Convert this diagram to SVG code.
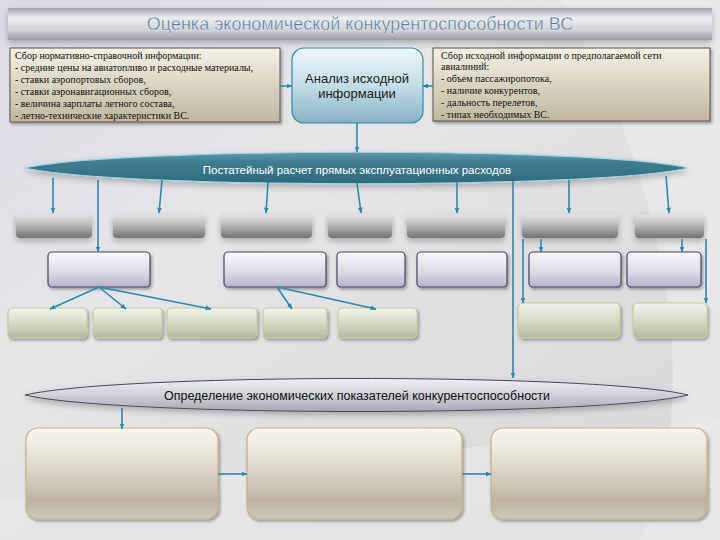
<svg xmlns="http://www.w3.org/2000/svg" width="720" height="540" viewBox="0 0 720 540">
  <defs>
    <linearGradient id="bg" x1="0" y1="0" x2="1" y2="1">
      <stop offset="0" stop-color="#dcdae6"/>
      <stop offset="0.35" stop-color="#e6e6e8"/>
      <stop offset="1" stop-color="#d6d6d8"/>
    </linearGradient>
    <linearGradient id="titleG" x1="0" y1="0" x2="0" y2="1">
      <stop offset="0" stop-color="#a2a2ae"/>
      <stop offset="0.3" stop-color="#ececf0"/>
      <stop offset="0.7" stop-color="#d2d2da"/>
      <stop offset="1" stop-color="#9a9aa6"/>
    </linearGradient>
    <linearGradient id="tanG" x1="0" y1="0" x2="0" y2="1">
      <stop offset="0" stop-color="#f4f1e6"/>
      <stop offset="1" stop-color="#bfb6a0"/>
    </linearGradient>
    <linearGradient id="tealBoxG" x1="0" y1="0" x2="0" y2="1">
      <stop offset="0" stop-color="#eef6f8"/>
      <stop offset="0.5" stop-color="#c4dde6"/>
      <stop offset="1" stop-color="#86b2c2"/>
    </linearGradient>
    <linearGradient id="ell1G" x1="0" y1="0" x2="0" y2="1">
      <stop offset="0" stop-color="#5e9bad"/>
      <stop offset="0.3" stop-color="#407f92"/>
      <stop offset="1" stop-color="#2e697b"/>
    </linearGradient>
    <linearGradient id="ell2G" x1="0" y1="0" x2="0" y2="1">
      <stop offset="0" stop-color="#f0f0f4"/>
      <stop offset="0.5" stop-color="#d0d0d8"/>
      <stop offset="1" stop-color="#a8a8b0"/>
    </linearGradient>
    <linearGradient id="grayG" x1="0" y1="0" x2="0" y2="1">
      <stop offset="0" stop-color="#e2e2e2"/>
      <stop offset="0.35" stop-color="#c6c6c6"/>
      <stop offset="1" stop-color="#727272"/>
    </linearGradient>
    <linearGradient id="lavG" x1="0" y1="0" x2="0" y2="1">
      <stop offset="0" stop-color="#faf9fc"/>
      <stop offset="0.5" stop-color="#e2dfea"/>
      <stop offset="1" stop-color="#b8b2c8"/>
    </linearGradient>
    <linearGradient id="greenG" x1="0" y1="0" x2="0" y2="1">
      <stop offset="0" stop-color="#f2f4ea"/>
      <stop offset="0.5" stop-color="#d6dac6"/>
      <stop offset="1" stop-color="#b2ba9e"/>
    </linearGradient>
    <linearGradient id="beigeG" x1="0" y1="0" x2="0" y2="1">
      <stop offset="0" stop-color="#f9f7ef"/>
      <stop offset="0.45" stop-color="#ddd7ca"/>
      <stop offset="0.8" stop-color="#bdb3a2"/>
      <stop offset="1" stop-color="#cfc8ba"/>
    </linearGradient>
    <filter id="sh" x="-10%" y="-20%" width="120%" height="150%">
      <feDropShadow dx="1.5" dy="2" stdDeviation="1.5" flood-color="#000" flood-opacity="0.35"/>
    </filter>
    <filter id="shSoft" x="-5%" y="-30%" width="110%" height="180%">
      <feDropShadow dx="0" dy="3" stdDeviation="3" flood-color="#000" flood-opacity="0.25"/>
    </filter>
    <marker id="arr" viewBox="0 0 10 10" refX="9" refY="5" markerWidth="6" markerHeight="6" orient="auto" markerUnits="userSpaceOnUse">
      <path d="M0,1 L10,5 L0,9 Z" fill="#2a8ab0"/>
    </marker>
    <style>
      .conn { stroke: #2a8ab0; stroke-width: 1.6; fill: none; }
      .gray { fill: url(#grayG); filter: url(#shSoft); }
      .lav { fill: url(#lavG); stroke: #4a4460; stroke-width: 1.2; filter: url(#sh); }
      .green { fill: url(#greenG); stroke: #c8c89a; stroke-width: 1; filter: url(#sh); }
      .beige { fill: url(#beigeG); stroke: #c4b488; stroke-width: 1.2; filter: url(#sh); }
      .tan { fill: url(#tanG); stroke: #5a5548; stroke-width: 1; filter: url(#sh); }
      .small { font-family: "Liberation Serif", "Times New Roman", serif; font-size: 10px; fill: #111; }
      .sans { font-family: "Liberation Sans", Arial, sans-serif; }
    </style>
  </defs>

  <rect x="0" y="0" width="720" height="540" fill="url(#bg)"/>
  <path d="M560,0 L720,0 L720,540 L640,540 C700,420 680,200 560,0 Z" fill="#ebebed" opacity="0.7"/>
  <path d="M0,500 L720,420 L720,540 L0,540 Z" fill="#e9e9eb" opacity="0.6"/>

  <g id="title">
    <rect x="8" y="8" width="704" height="32" fill="url(#titleG)" filter="url(#shSoft)"/>
    <text x="360" y="30" text-anchor="middle" class="sans" font-size="18" fill="#5a7a96" stroke="#ffffff" stroke-width="0.3">Оценка экономической конкурентоспособности ВС</text>
  </g>

  <g id="node-left-info">
    <rect x="10" y="48" width="270" height="74" class="tan"/>
    <text class="small" font-family="'Liberation Serif', 'Times New Roman', serif">
      <tspan x="15" y="59">Сбор нормативно-справочной информации:</tspan>
      <tspan x="15" y="71">- средние цены на авиатопливо и расходные материалы,</tspan>
      <tspan x="15" y="83">- ставки аэропортовых сборов,</tspan>
      <tspan x="15" y="95">- ставки аэронавигационных сборов,</tspan>
      <tspan x="15" y="107">- величина зарплаты летного состава,</tspan>
      <tspan x="15" y="119">- летно-технические характеристики ВС.</tspan>
    </text>
  </g>

  <g id="node-analysis">
    <rect x="292" y="48" width="131" height="75" rx="12" fill="url(#tealBoxG)" stroke="#3a88a8" stroke-width="1.2"/>
    <text x="357" y="83" text-anchor="middle" class="sans" font-size="13" fill="#222">Анализ исходной</text>
    <text x="357" y="98" text-anchor="middle" class="sans" font-size="13" fill="#222">информации</text>
  </g>

  <g id="node-right-info">
    <rect x="433" y="48" width="277" height="73" class="tan"/>
    <text class="small" font-family="'Liberation Serif', 'Times New Roman', serif">
      <tspan x="441" y="59">Сбор исходной информации о предполагаемой сети</tspan>
      <tspan x="441" y="70">авиалиний:</tspan>
      <tspan x="441" y="82">- объем пассажиропотока,</tspan>
      <tspan x="441" y="94">- наличие конкурентов,</tspan>
      <tspan x="441" y="106">- дальность перелетов,</tspan>
      <tspan x="441" y="118">- типах необходимых ВС.</tspan>
    </text>
  </g>

  <g id="node-costs">
    <path d="M25,168 C120,147 600,147 688,168 C600,189 120,189 25,168 Z" fill="url(#ell1G)" stroke="#9fd4e4" stroke-width="1.2" filter="url(#shSoft)"/>
    <text x="357" y="174" text-anchor="middle" class="sans" font-size="11.5" fill="#ffffff">Постатейный расчет прямых эксплуатационных расходов</text>
  </g>

  <g id="gray-row">
    <rect id="g1" x="16" y="214" width="76" height="24" rx="4" class="gray"/>
    <rect id="g2" x="113" y="214" width="92" height="24" rx="4" class="gray"/>
    <rect id="g3" x="221" y="214" width="91" height="24" rx="4" class="gray"/>
    <rect id="g4" x="328" y="214" width="64" height="24" rx="4" class="gray"/>
    <rect id="g5" x="407" y="214" width="98" height="24" rx="4" class="gray"/>
    <rect id="g6" x="522" y="214" width="96" height="24" rx="4" class="gray"/>
    <rect id="g7" x="635" y="214" width="69" height="24" rx="4" class="gray"/>
  </g>

  <g id="lavender-row">
    <rect id="l1" x="48" y="252" width="102" height="35" rx="4" class="lav"/>
    <rect id="l2" x="224" y="252" width="102" height="35" rx="4" class="lav"/>
    <rect id="l3" x="337" y="252" width="68" height="35" rx="4" class="lav"/>
    <rect id="l4" x="417" y="252" width="90" height="35" rx="4" class="lav"/>
    <rect id="l5" x="529" y="252" width="92" height="35" rx="4" class="lav"/>
    <rect id="l6" x="627" y="252" width="74" height="35" rx="4" class="lav"/>
  </g>

  <g id="green-row">
    <rect id="gr1" x="8" y="308" width="79" height="30" rx="4" class="green"/>
    <rect id="gr2" x="93" y="308" width="69" height="30" rx="4" class="green"/>
    <rect id="gr3" x="167" y="308" width="90" height="30" rx="4" class="green"/>
    <rect id="gr4" x="263" y="308" width="64" height="30" rx="4" class="green"/>
    <rect id="gr5" x="338" y="308" width="79" height="30" rx="4" class="green"/>
    <rect id="gr6" x="518" y="303" width="102" height="35" rx="5" class="green"/>
    <rect id="gr7" x="633" y="303" width="74" height="35" rx="5" class="green"/>
  </g>

  <g id="node-indicators">
    <path d="M25,395 C120,373 600,373 688,395 C600,417 120,417 25,395 Z" fill="url(#ell2G)" stroke="#4a4a52" stroke-width="1" filter="url(#shSoft)"/>
    <text x="357" y="400" text-anchor="middle" class="sans" font-size="12.5" fill="#111">Определение экономических показателей конкурентоспособности</text>
  </g>

  <g id="bottom-row">
    <rect id="b1" x="26" y="428" width="192" height="91" rx="12" class="beige"/>
    <rect id="b2" x="247" y="428" width="215" height="91" rx="12" class="beige"/>
    <rect id="b3" x="491" y="428" width="216" height="91" rx="12" class="beige"/>
  </g>

  <g id="connectors">
    <line class="conn" x1="280" y1="86" x2="292" y2="86" marker-end="url(#arr)"/>
    <line class="conn" x1="433" y1="86" x2="423" y2="86" marker-end="url(#arr)"/>
    <line class="conn" x1="357" y1="123" x2="357" y2="152" marker-end="url(#arr)"/>
    <line class="conn" x1="53" y1="178" x2="53" y2="213" marker-end="url(#arr)"/>
    <line class="conn" x1="98" y1="180" x2="98" y2="252" marker-end="url(#arr)"/>
    <line class="conn" x1="162" y1="180" x2="159" y2="213" marker-end="url(#arr)"/>
    <line class="conn" x1="268" y1="182" x2="266" y2="213" marker-end="url(#arr)"/>
    <line class="conn" x1="357" y1="183" x2="361" y2="213" marker-end="url(#arr)"/>
    <line class="conn" x1="457" y1="182" x2="457" y2="213" marker-end="url(#arr)"/>
    <line class="conn" x1="513" y1="181" x2="513" y2="378" marker-end="url(#arr)"/>
    <line class="conn" x1="569" y1="180" x2="569" y2="213" marker-end="url(#arr)"/>
    <line class="conn" x1="666" y1="176" x2="669" y2="213" marker-end="url(#arr)"/>
    <line class="conn" x1="541" y1="239" x2="541" y2="252" marker-end="url(#arr)"/>
    <line class="conn" x1="682" y1="239" x2="682" y2="252" marker-end="url(#arr)"/>
    <line class="conn" x1="523" y1="239" x2="523" y2="303" marker-end="url(#arr)"/>
    <line class="conn" x1="706" y1="239" x2="706" y2="303" marker-end="url(#arr)"/>
    <line class="conn" x1="99" y1="287" x2="50" y2="309" marker-end="url(#arr)"/>
    <line class="conn" x1="99" y1="287" x2="126" y2="309" marker-end="url(#arr)"/>
    <line class="conn" x1="99" y1="287" x2="211" y2="309" marker-end="url(#arr)"/>
    <line class="conn" x1="277" y1="287" x2="292" y2="309" marker-end="url(#arr)"/>
    <line class="conn" x1="277" y1="287" x2="376" y2="309" marker-end="url(#arr)"/>
    <line class="conn" x1="122" y1="408" x2="122" y2="429" marker-end="url(#arr)"/>
    <line class="conn" x1="218" y1="474" x2="247" y2="474" marker-end="url(#arr)"/>
    <line class="conn" x1="462" y1="474" x2="491" y2="474" marker-end="url(#arr)"/>
  </g>
</svg>
